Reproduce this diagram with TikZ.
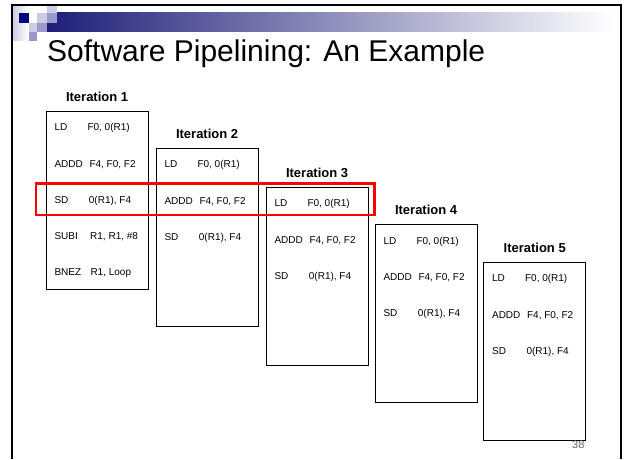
\documentclass[tikz,border=0pt]{standalone}
\usepackage{fontspec}
\setmainfont{Liberation Sans}
\definecolor{navy}{HTML}{000080}
\definecolor{barnavy}{HTML}{1E1E78}
\definecolor{lav}{HTML}{CCCCE6}
\definecolor{midpurple}{HTML}{9999CC}
\definecolor{pagegray}{HTML}{606060}
\begin{document}
\begin{tikzpicture}[x=1pt,y=-1pt,
  iterbox/.style={draw=black, line width=0.8pt, minimum width=102pt, minimum height=178pt, inner sep=0pt, anchor=north west},
  itlabel/.style={font=\fontsize{13}{15}\selectfont\bfseries, inner sep=0pt},
  instr/.style={font=\fontsize{10}{12}\selectfont, anchor=base west, inner sep=0pt},
  frameline/.style={line width=2.4pt, black},
  hilite/.style={draw=red, line width=2.6pt}]
\useasboundingbox (0,0) rectangle (624,459);
% decoration
\shade[left color=lav, right color=white] (12.7,6) rectangle (28.5,40);
\shade[left color=barnavy, right color=white] (46.8,12.7) rectangle (614,31.7);
\fill[navy] (19,12.7) rectangle (28.7,22.7);
\fill[lav] (37,12.7) rectangle (46.8,22.7);
\fill[lav] (46.8,6) rectangle (56.6,12.7);
\fill[midpurple] (46.8,12.7) rectangle (56.6,22.7);
\fill[lav] (28.5,22.7) rectangle (37,31.7);
\fill[midpurple] (37,22.7) rectangle (46.8,31.7);
\fill[midpurple] (28.5,31.7) rectangle (37.3,40.7);
% frame
\draw[frameline] (11.7,459) -- (11.7,5) -- (621,5) -- (621,459);
% title
\node[font=\fontsize{30}{36}\selectfont, anchor=base west, inner sep=0pt] (title) at (47,61) {Software Pipelining: An Example};
% boxes
\foreach \i/\x/\y in {1/45.7/110.7, 2/155.7/147.7, 3/265.7/186.7, 4/374.7/224.3, 5/483.3/261.7}{
  \node[iterbox] (b\i) at (\x,\y) {};
  \node[itlabel] (l\i) at ([yshift=14pt]b\i.north) {Iteration \i};
}
% instructions
\foreach \b/\x/\y in {1/45.7/110.7, 2/155.7/147.7, 3/265.7/186.7, 4/374.7/224.3, 5/483.3/261.7}{
  \node[instr] (m\b-1) at (\x+8.6,\y+20) {LD};
  \node[instr] (o\b-1) at (\x+41.6,\y+20) {F0, 0(R1)};
  \node[instr] (m\b-2) at (\x+8.6,\y+56.3) {ADDD};
  \node[instr] (o\b-2) at (\x+43.6,\y+56.3) {F4, F0, F2};
  \node[instr] (m\b-3) at (\x+8.6,\y+92.6) {SD};
  \node[instr] (o\b-3) at (\x+43,\y+92.6) {0(R1), F4};
}
\node[instr] (m1-4) at (45.7+8.6,110.7+128.9) {SUBI};
\node[instr] (o1-4) at (45.7+44.3,110.7+128.9) {R1, R1, \#8};
\node[instr] (m1-5) at (45.7+8.6,110.7+165.2) {BNEZ};
\node[instr] (o1-5) at (45.7+44.6,110.7+165.2) {R1, Loop};
% page number
\node[font=\fontsize{11}{13}\selectfont, text=pagegray, inner sep=0pt] (pg) at (578.3,444.3) {38};
% highlight
\draw[hilite] (36,183.3) rectangle (374.3,215);
\end{tikzpicture}
\end{document}
